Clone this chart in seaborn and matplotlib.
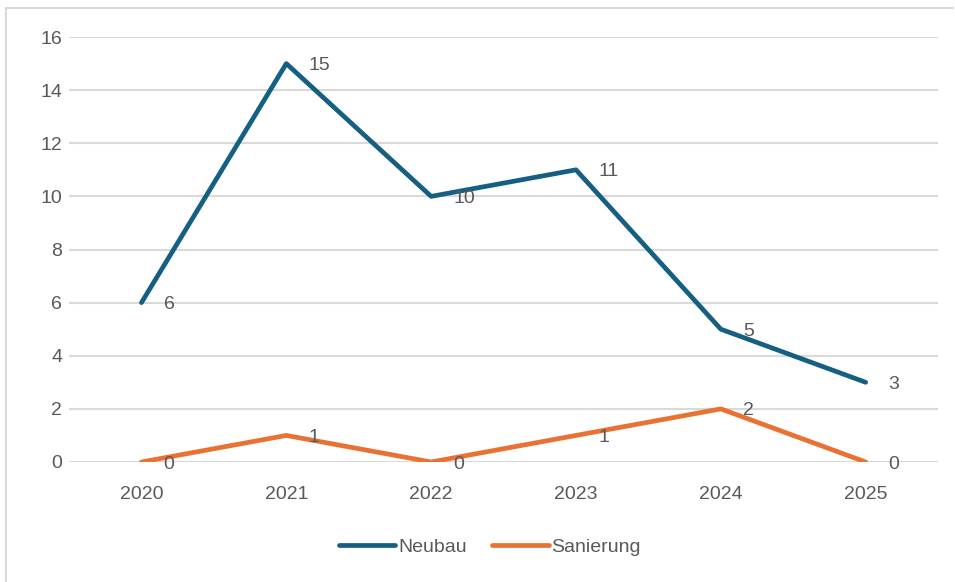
import numpy as np
import pandas as pd
import matplotlib.pyplot as plt
import seaborn as sns
from matplotlib.lines import Line2D

# Chart data
jahre = ["2020", "2021", "2022", "2023", "2024", "2025"]
neubau = [6, 15, 10, 11, 5, 3]
sanierung = [0, 1, 0, 1, 2, 0]
serien = ["Neubau", "Sanierung"]
farben = {"Neubau": "#156082", "Sanierung": "#E97132"}

df = pd.DataFrame({
    "Jahr": jahre * 2,
    "Wert": neubau + sanierung,
    "Serie": ["Neubau"] * len(jahre) + ["Sanierung"] * len(jahre),
})
df["x"] = df.groupby("Serie").cumcount()

sns.set_style("white")
plt.rcParams["font.family"] = ["Liberation Sans", "DejaVu Sans"]
text_col = "#595959"
grid_col = "#D9D9D9"

fig = plt.figure(figsize=(9.55, 5.82), dpi=100)
ax = fig.add_axes([0.0723, 0.2062, 0.9100, 0.7302])

sns.lineplot(data=df, x="x", y="Wert", hue="Serie", palette=farben,
             linewidth=3.4, ax=ax, legend=False, solid_capstyle="round")

# data labels right of each point
for _, row in df.iterrows():
    ax.annotate(str(row["Wert"]), (row["x"], row["Wert"]), xytext=(16, -1.5),
                textcoords="offset points", ha="left", va="center",
                fontsize=14, color=text_col)

ax.set_xlim(-0.5, len(jahre) - 0.5)
ax.set_ylim(0, 16)
ax.set_yticks(np.arange(0, 17, 2))
ax.set_xticks(range(len(jahre)))
ax.set_xticklabels(jahre)
ax.set_xlabel("")
ax.set_ylabel("")
ax.grid(axis="y", color=grid_col, linewidth=1.5)
ax.set_axisbelow(True)
for s in ax.spines.values():
    s.set_visible(False)
ax.tick_params(axis="both", length=0, labelsize=14, labelcolor=text_col)
ax.tick_params(axis="x", pad=17)
ax.tick_params(axis="y", pad=5)

# legend below
handles = [Line2D([0], [0], color=farben[s], linewidth=3.4, solid_capstyle="round") for s in serien]
fig.legend(handles, serien, loc="center", bbox_to_anchor=(0.513, 0.06), ncol=2,
           frameon=False, fontsize=14, labelcolor=text_col, handlelength=2.9,
           handletextpad=0.15, columnspacing=1.3)

# chart border (only left and top edges visible)
fig.add_artist(Line2D([6 / 955, 6 / 955], [0, 1 - 8 / 582], transform=fig.transFigure,
                      color=grid_col, linewidth=1.5))
fig.add_artist(Line2D([6 / 955, 953 / 955], [1 - 8 / 582, 1 - 8 / 582], transform=fig.transFigure,
                      color=grid_col, linewidth=1.5))

fig.savefig("out.png", dpi=100)
